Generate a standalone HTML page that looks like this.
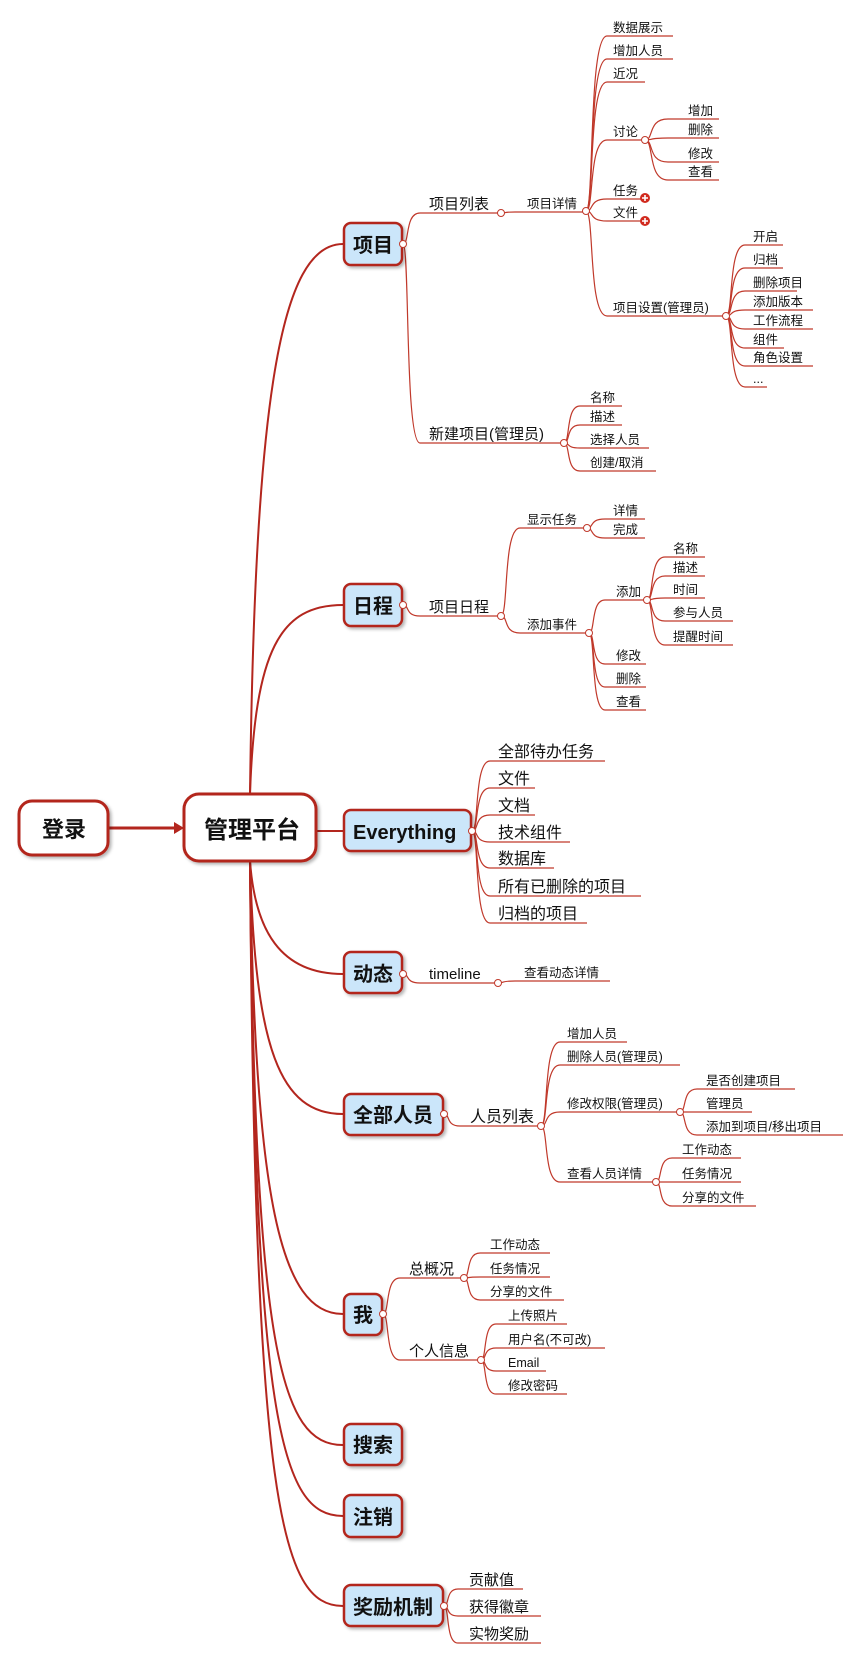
<!DOCTYPE html>
<html><head><meta charset="utf-8"><style>
html,body{margin:0;padding:0;background:#fff;}
svg{display:block;}
text{font-family:"Liberation Sans","Noto Sans CJK SC",sans-serif;fill:#111;}
.b{font-weight:bold;}
</style></head><body>
<svg id="s" width="864" height="1654" viewBox="0 0 864 1654" xmlns="http://www.w3.org/2000/svg">
<defs>
<filter id="sh" x="-20%" y="-20%" width="150%" height="150%"><feDropShadow dx="2" dy="2" stdDeviation="1.5" flood-color="#000" flood-opacity="0.3"/></filter>
</defs>
<g id="lines" fill="none"></g>
<!-- trunk -->
<g fill="none" stroke="#b3261e" stroke-width="2">
<path d="M250 794 C255 400 280 244 343 244"/>
<path d="M250 794 C255 650 280 605 343 605"/>
<path d="M316 831 L344 831"/>
<path d="M250 861 C255 930 280 974 343 974"/>
<path d="M250 861 C255 1050 280 1114 343 1114"/>
<path d="M250 861 C255 1200 280 1314 343 1314"/>
<path d="M250 861 C255 1350 280 1445 343 1445"/>
<path d="M250 861 C255 1420 280 1516 343 1516"/>
<path d="M250 861 C255 1500 280 1606 343 1606"/>
<path d="M108 828 L176 828" stroke-width="3"/>
</g>
<polygon points="174,822 184,828 174,834" fill="#b3261e"/>
<!-- main boxes -->
<g stroke="#b3261e" stroke-width="3" filter="url(#sh)">
<rect x="19" y="801" width="89" height="54" rx="13" fill="#fff"/>
<rect x="184" y="794" width="132" height="67" rx="15" fill="#fff"/>
</g>
<g stroke="#b3261e" stroke-width="2.5" fill="#cbe6fa" filter="url(#sh)">
<rect x="344" y="223" width="58" height="42" rx="7"/>
<rect x="344" y="584" width="58" height="42" rx="7"/>
<rect x="344" y="810" width="127" height="41" rx="7"/>
<rect x="344" y="952" width="58" height="41" rx="7"/>
<rect x="344" y="1094" width="99" height="41" rx="7"/>
<rect x="344" y="1294" width="38" height="41" rx="7"/>
<rect x="344" y="1424" width="58" height="41" rx="7"/>
<rect x="344" y="1495" width="58" height="42" rx="7"/>
<rect x="344" y="1585" width="99" height="41" rx="7"/>
</g>
<g class="b" font-size="22">
<text class="b" x="42" y="837">登录</text>
<text class="b" x="204" y="838" font-size="24">管理平台</text>
<text class="b" x="353" y="252" font-size="20">项目</text>
<text class="b" x="353" y="613" font-size="20">日程</text>
<text class="b" x="353" y="839" font-size="20">Everything</text>
<text class="b" x="353" y="981" font-size="20">动态</text>
<text class="b" x="353" y="1122" font-size="20">全部人员</text>
<text class="b" x="353" y="1322" font-size="20">我</text>
<text class="b" x="353" y="1452" font-size="20">搜索</text>
<text class="b" x="353" y="1524" font-size="20">注销</text>
<text class="b" x="353" y="1614" font-size="20">奖励机制</text>
</g>
<!-- labels -->
<g font-size="15">
<text x="429" y="209">项目列表</text>
<text x="429" y="439">新建项目(管理员)</text>
<text x="429" y="612">项目日程</text>
<text x="429" y="979">timeline</text>
<text x="470" y="1122" font-size="16">人员列表</text>
<text x="409" y="1274">总概况</text>
<text x="409" y="1356">个人信息</text>
<text x="469" y="1585">贡献值</text>
<text x="469" y="1612">获得徽章</text>
<text x="469" y="1639">实物奖励</text>
</g>
<g font-size="16">
<text x="498" y="757">全部待办任务</text>
<text x="498" y="784">文件</text>
<text x="498" y="811">文档</text>
<text x="498" y="838">技术组件</text>
<text x="498" y="864">数据库</text>
<text x="498" y="892">所有已删除的项目</text>
<text x="498" y="919">归档的项目</text>
</g>
<g font-size="12.5">
<text x="527" y="208">项目详情</text>
<text x="613" y="32">数据展示</text>
<text x="613" y="55">增加人员</text>
<text x="613" y="78">近况</text>
<text x="613" y="136">讨论</text>
<text x="613" y="195">任务</text>
<text x="613" y="217">文件</text>
<text x="613" y="312">项目设置(管理员)</text>
<text x="688" y="115">增加</text>
<text x="688" y="134">删除</text>
<text x="688" y="158">修改</text>
<text x="688" y="176">查看</text>
<text x="753" y="241">开启</text>
<text x="753" y="264">归档</text>
<text x="753" y="287">删除项目</text>
<text x="753" y="306">添加版本</text>
<text x="753" y="325">工作流程</text>
<text x="753" y="344">组件</text>
<text x="753" y="362">角色设置</text>
<text x="753" y="383">...</text>
<text x="590" y="402">名称</text>
<text x="590" y="421">描述</text>
<text x="590" y="444">选择人员</text>
<text x="590" y="467">创建/取消</text>
<text x="527" y="524">显示任务</text>
<text x="527" y="629">添加事件</text>
<text x="613" y="515">详情</text>
<text x="613" y="534">完成</text>
<text x="616" y="596">添加</text>
<text x="616" y="660">修改</text>
<text x="616" y="683">删除</text>
<text x="616" y="706">查看</text>
<text x="673" y="553">名称</text>
<text x="673" y="572">描述</text>
<text x="673" y="594">时间</text>
<text x="673" y="617">参与人员</text>
<text x="673" y="641">提醒时间</text>
<text x="524" y="977">查看动态详情</text>
<text x="567" y="1038">增加人员</text>
<text x="567" y="1061">删除人员(管理员)</text>
<text x="567" y="1108">修改权限(管理员)</text>
<text x="567" y="1178">查看人员详情</text>
<text x="706" y="1085">是否创建项目</text>
<text x="706" y="1108">管理员</text>
<text x="706" y="1131">添加到项目/移出项目</text>
<text x="682" y="1154">工作动态</text>
<text x="682" y="1178">任务情况</text>
<text x="682" y="1202">分享的文件</text>
<text x="490" y="1249">工作动态</text>
<text x="490" y="1273">任务情况</text>
<text x="490" y="1296">分享的文件</text>
<text x="508" y="1320">上传照片</text>
<text x="508" y="1344">用户名(不可改)</text>
<text x="508" y="1367">Email</text>
<text x="508" y="1390">修改密码</text>
</g>
<g id="dots"></g>
<g>
<circle cx="645" cy="198" r="5" fill="#d12a1e"/><path d="M642 198h6M645 195v6" stroke="#fff" stroke-width="1.6"/>
<circle cx="645" cy="221" r="5" fill="#d12a1e"/><path d="M642 221h6M645 218v6" stroke="#fff" stroke-width="1.6"/>
</g>
<script>
var E=[
[403,244,420,[[213,498],[443,562]]],
[501,213,515,[[212,584]]],
[586,211,607,[[36,673],[59,673],[82,645],[140,641],[199,641],[221,641],[316,723]]],
[645,140,668,[[119,719],[138,719],[162,719],[180,719]]],
[726,316,745,[[245,783],[268,783],[291,797],[310,813],[329,813],[348,784],[366,813],[387,767]]],
[564,443,580,[[406,622],[425,622],[448,649],[471,656]]],
[403,605,420,[[616,498]]],
[501,616,520,[[528,584],[633,586]]],
[587,528,605,[[519,645],[538,645]]],
[589,633,605,[[600,645],[664,646],[687,646],[710,646]]],
[647,600,665,[[557,705],[576,705],[598,705],[621,733],[645,733]]],
[472,831,490,[[761,605],[788,535],[815,535],[842,570],[868,554],[896,641],[923,587]]],
[403,974,420,[[983,497]]],
[498,983,515,[[981,610]]],
[444,1114,460,[[1126,538]]],
[541,1126,560,[[1042,627],[1065,680],[1112,677],[1182,653]]],
[680,1112,697,[[1089,795],[1112,752],[1135,843]]],
[656,1182,672,[[1158,741],[1182,741],[1206,756]]],
[383,1314,400,[[1278,461],[1360,478]]],
[464,1278,480,[[1253,550],[1277,550],[1300,564]]],
[481,1360,496,[[1324,567],[1348,605],[1371,546],[1394,567]]],
[444,1606,458,[[1589,523],[1616,541],[1643,541]]]
];
var NS="http://www.w3.org/2000/svg",L=document.getElementById("lines"),D=document.getElementById("dots");
E.forEach(function(e){var px=e[0],py=e[1],sx=e[2],d=sx-px;
e[3].forEach(function(c){var Y=c[0],ex=c[1];
var p=document.createElementNS(NS,"path");
p.setAttribute("d","M"+px+" "+py+" C"+(px+d*0.4)+" "+py+" "+(px+d*0.1)+" "+Y+" "+sx+" "+Y+" L"+ex+" "+Y);
p.setAttribute("stroke","#c0392b");p.setAttribute("stroke-width","1.2");L.appendChild(p);});
var k=document.createElementNS(NS,"circle");k.setAttribute("cx",px);k.setAttribute("cy",py);k.setAttribute("r","3.5");
k.setAttribute("fill","#fff");k.setAttribute("stroke","#c0392b");k.setAttribute("stroke-width","1");D.appendChild(k);});
</script>
</svg>
</body></html>
